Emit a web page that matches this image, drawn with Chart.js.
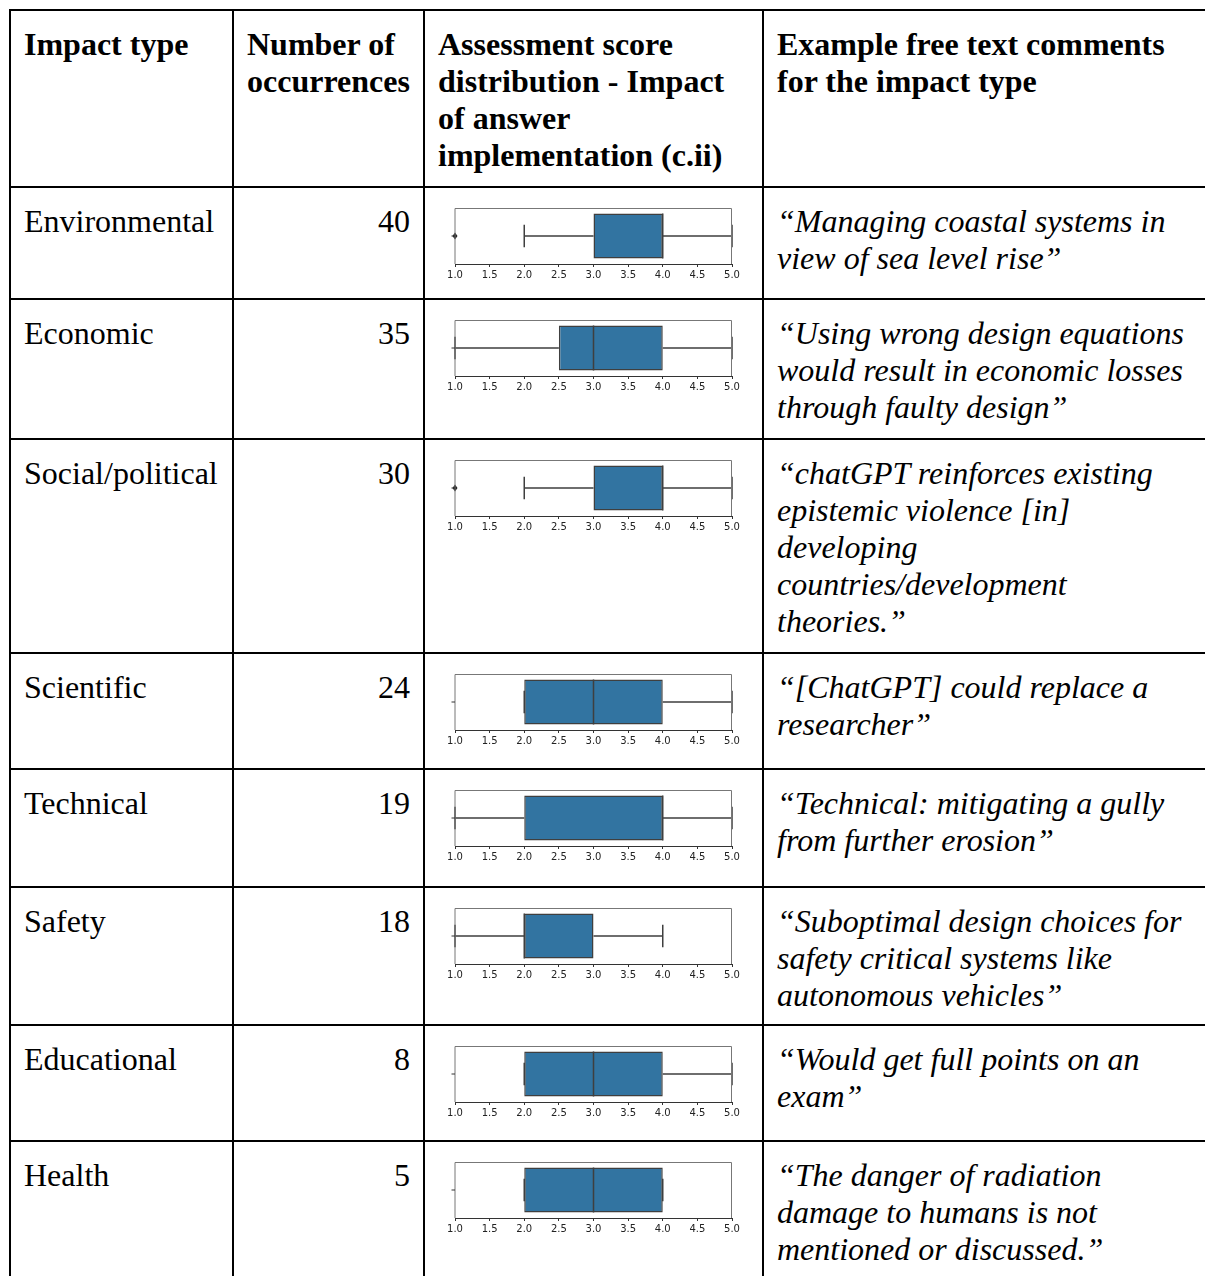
<!DOCTYPE html>
<html>
<head>
<meta charset="utf-8">
<script src="https://cdn.jsdelivr.net/npm/chart.js@4.4.1/dist/chart.umd.min.js"></script>
<style>
  html, body { margin: 0; padding: 0; background: #fff; }
  body { width: 1205px; height: 1276px; overflow: hidden; position: relative; }
  table {
    position: absolute; left: 9px; top: 9px; width: 1225px;
    border-collapse: collapse; table-layout: fixed;
    font-family: "Liberation Serif", "Times New Roman", serif;
    font-size: 32px; line-height: 37px; color: #000;
  }
  td, th { border: 2px solid #000; vertical-align: top; padding: 15px 13px 0 13px; white-space: nowrap; }
  th { text-align: left; font-weight: bold; }
  td.num { text-align: right; }
  td.quote { font-style: italic; }
  td.plot { padding: 0; position: relative; }
  td.plot canvas { position: absolute; left: 18px; top: 19px; }
</style>
</head>
<body>
<table id="tbl">
  <colgroup><col style="width:223px"><col style="width:191px"><col style="width:339px"><col style="width:472px"></colgroup>
  <thead>
    <tr style="height:177px">
      <th>Impact type</th>
      <th>Number of<br>occurrences</th>
      <th>Assessment score<br>distribution - Impact<br>of answer<br>implementation (c.ii)</th>
      <th>Example free text comments<br>for the impact type</th>
    </tr>
  </thead>
  <tbody id="rows"></tbody>
</table>
<script>
// Zeilen der Tabelle
const impactTypes = ['Environmental', 'Economic', 'Social/political', 'Scientific',
                     'Technical', 'Safety', 'Educational', 'Health'];
const occurrences = [40, 35, 30, 24, 19, 18, 8, 5];
const comments = [
  ['\u201cManaging coastal systems in', 'view of sea level rise\u201d'],
  ['\u201cUsing wrong design equations', 'would result in economic losses', 'through faulty design\u201d'],
  ['\u201cchatGPT reinforces existing', 'epistemic violence [in]', 'developing', 'countries/development', 'theories.\u201d'],
  ['\u201c[ChatGPT] could replace a', 'researcher\u201d'],
  ['\u201cTechnical: mitigating a gully', 'from further erosion\u201d'],
  ['\u201cSuboptimal design choices for', 'safety critical systems like', 'autonomous vehicles\u201d'],
  ['\u201cWould get full points on an', 'exam\u201d'],
  ['\u201cThe danger of radiation', 'damage to humans is not', 'mentioned or discussed.\u201d']
];

// Boxplot-Werte (Bewertung 1..5)
const whiskerLo = [2, 1, 2, 2, 1, 1, 2, 2];
const q1        = [3, 2.5, 3, 2, 2, 2, 2, 2];
const median    = [4, 3, 4, 3, 4, 2, 3, 3];
const q3        = [4, 4, 4, 4, 4, 3, 4, 4];
const whiskerHi = [5, 5, 5, 5, 5, 4, 5, 4];
const outliers  = [[1], [], [1], [], [], [], [], []];
const scoreTicks = ['1.0', '1.5', '2.0', '2.5', '3.0', '3.5', '4.0', '4.5', '5.0'];

// Layout: Zeilenhöhen (Linie zu Linie)
const rowHeights = [112, 140, 214, 116, 118, 138, 116, 150];

const BOX_FILL = '#3274a1';
const EDGE     = '#3f3f3f';

// Whisker, Median, Kappen und Ausreißer über die Skalen zeichnen
const boxParts = {
  id: 'boxParts',
  afterDatasetsDraw(chart) {
    const i   = chart.options.plugins.boxParts.row;
    const ctx = chart.ctx;
    const xs  = chart.scales.x;
    const bar = chart.getDatasetMeta(0).data[0];
    const yc  = bar.y;
    const h   = bar.height;
    const px  = v => xs.getPixelForValue(v);

    ctx.save();
    ctx.strokeStyle = EDGE;
    ctx.lineWidth = 1.5;
    ctx.beginPath();
    // Whisker
    ctx.moveTo(px(whiskerLo[i]), yc); ctx.lineTo(px(q1[i]), yc);
    ctx.moveTo(px(q3[i]), yc);        ctx.lineTo(px(whiskerHi[i]), yc);
    // Kappen (halbe Boxbreite)
    ctx.moveTo(px(whiskerLo[i]), yc - h / 4); ctx.lineTo(px(whiskerLo[i]), yc + h / 4);
    ctx.moveTo(px(whiskerHi[i]), yc - h / 4); ctx.lineTo(px(whiskerHi[i]), yc + h / 4);
    // Median
    ctx.moveTo(px(median[i]), yc - h / 2); ctx.lineTo(px(median[i]), yc + h / 2);
    ctx.stroke();

    // Ausreißer als kleine Rauten
    ctx.fillStyle = '#222';
    outliers[i].forEach(v => {
      const x = px(v);
      ctx.beginPath();
      ctx.moveTo(x, yc - 3.5); ctx.lineTo(x + 2.5, yc);
      ctx.lineTo(x, yc + 3.5); ctx.lineTo(x - 2.5, yc);
      ctx.closePath(); ctx.fill();
    });
    ctx.restore();
  },
  afterDraw(chart) {
    const { left, right, top, bottom } = chart.chartArea;
    const ctx = chart.ctx;
    const yc  = chart.getDatasetMeta(0).data[0].y;
    ctx.save();
    ctx.lineWidth = 1;
    ctx.strokeStyle = '#777';
    ctx.beginPath();
    ctx.moveTo(left, bottom); ctx.lineTo(left, top + 0.5);
    ctx.lineTo(right - 0.5, top + 0.5); ctx.lineTo(right - 0.5, bottom);
    ctx.stroke();
    // y-Tick der einzigen Kategorie
    ctx.strokeStyle = '#333';
    ctx.beginPath();
    ctx.moveTo(left - 3.5, yc); ctx.lineTo(left, yc);
    ctx.stroke();
    ctx.restore();
  }
};

const tbody = document.getElementById('rows');

impactTypes.forEach((name, i) => {
  const tr = document.createElement('tr');
  tr.style.height = rowHeights[i] + 'px';

  const tdName = document.createElement('td');
  tdName.textContent = name;

  const tdNum = document.createElement('td');
  tdNum.className = 'num';
  tdNum.textContent = occurrences[i];

  const tdPlot = document.createElement('td');
  tdPlot.className = 'plot';
  const cv = document.createElement('canvas');
  cv.width = 301; cv.height = 78;
  cv.style.width = '301px'; cv.style.height = '78px';
  tdPlot.appendChild(cv);

  const tdText = document.createElement('td');
  tdText.className = 'quote';
  tdText.innerHTML = comments[i].join('<br>');

  tr.append(tdName, tdNum, tdPlot, tdText);
  tbody.appendChild(tr);

  new Chart(cv.getContext('2d'), {
    type: 'bar',
    data: {
      labels: [''],
      datasets: [{
        data: [[q1[i], q3[i]]],
        backgroundColor: BOX_FILL,
        borderColor: EDGE,
        borderWidth: 1.5,
        borderSkipped: false,
        barPercentage: 0.8,
        categoryPercentage: 1
      }]
    },
    options: {
      indexAxis: 'y',
      responsive: false,
      animation: false,
      devicePixelRatio: 1,
      layout: { padding: { left: 12, right: 12, top: 1, bottom: 1 } },
      plugins: {
        legend: { display: false },
        tooltip: { enabled: false },
        boxParts: { row: i }
      },
      scales: {
        x: {
          type: 'linear',
          min: 1, max: 5,
          afterFit: s => { s.height = 20; },
          afterBuildTicks: s => { s.ticks = scoreTicks.map(t => ({ value: parseFloat(t) })); },
          border: { display: true, color: '#333', width: 1 },
          grid: { display: true, drawOnChartArea: false, drawTicks: true, tickLength: 3, color: '#333' },
          ticks: {
            color: '#222',
            padding: 2,
            maxRotation: 0,
            autoSkip: false,
            font: { family: 'DejaVu Sans', size: 10 },
            callback: (v, idx) => scoreTicks[idx]
          }
        },
        y: { display: false }
      }
    },
    plugins: [boxParts]
  });
});
</script>
</body>
</html>
